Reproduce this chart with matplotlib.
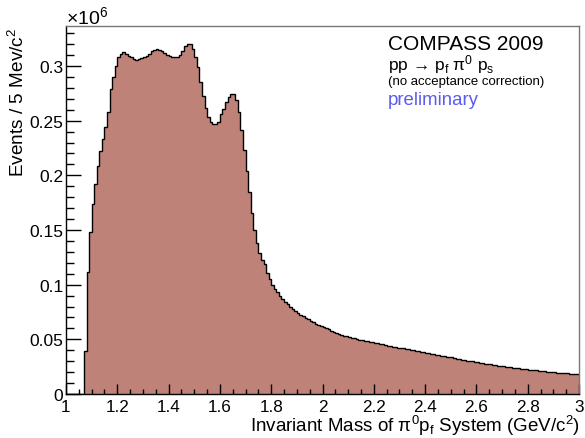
import numpy as np
import matplotlib
matplotlib.use('Agg')
from matplotlib import pyplot as plt
from matplotlib.ticker import MultipleLocator, FuncFormatter

plt.rcParams['font.family'] = ['Liberation Sans', 'DejaVu Sans']
plt.rcParams['mathtext.fontset'] = 'custom'
plt.rcParams['mathtext.rm'] = 'Liberation Sans'
plt.rcParams['mathtext.it'] = 'Liberation Sans:italic'
plt.rcParams['mathtext.bf'] = 'Liberation Sans:bold'

# histogram, 10 MeV bins from 1.0 to 3.0 GeV, counts in units of 10^6
mass_lo = 1.0
mass_hi = 3.0
n_bins = 200

counts_low = [0, 0, 0, 0, 0, 0, 0,
              0.039, 0.112, 0.148,
              0.174, 0.192, 0.209, 0.222, 0.233, 0.244, 0.258, 0.279, 0.290, 0.300,
              0.308, 0.311, 0.313, 0.311, 0.3096, 0.308, 0.3065, 0.3056, 0.3065, 0.307,
              0.308, 0.3096, 0.311, 0.3136, 0.315, 0.3155, 0.315, 0.3136, 0.3115, 0.310,
              0.3096, 0.3086, 0.308, 0.308, 0.310, 0.314, 0.318, 0.320, 0.320, 0.316]

counts_mid = [0.308, 0.299, 0.285, 0.273, 0.262, 0.253, 0.2486, 0.247, 0.247, 0.249,
              0.256, 0.261, 0.267, 0.2715, 0.2745, 0.274, 0.269, 0.258, 0.2416, 0.223,
              0.204, 0.1845, 0.166, 0.150, 0.138, 0.129, 0.123, 0.119, 0.111, 0.105,
              0.0997, 0.096, 0.093, 0.090, 0.087, 0.0845, 0.0824, 0.080, 0.0778, 0.0757,
              0.0741, 0.0723, 0.0711, 0.0698, 0.0686, 0.0671, 0.0656, 0.0643, 0.0634, 0.0622]

counts_high = [0.0610, 0.0601, 0.0592, 0.0579, 0.0570, 0.0561, 0.0552, 0.0543, 0.0533, 0.0528,
               0.0519, 0.0514, 0.0508, 0.0502, 0.0498, 0.0492, 0.0488, 0.0482, 0.0478, 0.0472,
               0.0468, 0.0462, 0.0458, 0.0453, 0.0448, 0.0443, 0.0439, 0.0433, 0.0430, 0.0425,
               0.0421, 0.0417, 0.0412, 0.0408, 0.0404, 0.0399, 0.0395, 0.0390, 0.0386, 0.0381,
               0.0377, 0.0372, 0.0368, 0.0364, 0.0360, 0.0356, 0.0351, 0.0347, 0.0343, 0.0340,
               0.0334, 0.0329, 0.0324, 0.0319, 0.0315, 0.0311, 0.0306, 0.0302, 0.0298, 0.0294,
               0.0290, 0.0286, 0.0282, 0.0278, 0.0275, 0.0271, 0.0267, 0.0264, 0.0260, 0.0257,
               0.0254, 0.0250, 0.0247, 0.0244, 0.0241, 0.0237, 0.0234, 0.0231, 0.0228, 0.0225,
               0.0223, 0.0220, 0.0217, 0.0215, 0.0212, 0.0210, 0.0207, 0.0205, 0.0202, 0.0200,
               0.0198, 0.0196, 0.0194, 0.0192, 0.0190, 0.0188, 0.0186, 0.0184, 0.0182, 0.0180]

counts = np.array(counts_low + counts_mid + counts_high)
edges = np.linspace(mass_lo, mass_hi, n_bins + 1)

W, H = 585, 439
fig = plt.figure(figsize=(W / 100, H / 100), dpi=100)
ax = fig.add_axes([66 / W, 44 / H, 513 / W, 368 / H])

fill_col = '#bf8278'
ax.stairs(counts, edges, fill=True, color=fill_col, lw=0)
ax.stairs(counts, edges, color='black', lw=1.0, baseline=None)

ax.set_xlim(mass_lo, mass_hi)
ax.set_ylim(0, 0.3366)

ax.xaxis.set_major_locator(MultipleLocator(0.2))
ax.xaxis.set_minor_locator(MultipleLocator(0.05))
ax.yaxis.set_major_locator(MultipleLocator(0.05))
ax.yaxis.set_minor_locator(MultipleLocator(0.01))
fmt = FuncFormatter(lambda v, p: '%g' % round(v, 3))
ax.xaxis.set_major_formatter(fmt)
ax.yaxis.set_major_formatter(fmt)

ax.tick_params(axis='x', which='major', direction='in', length=7.2, width=1, labelsize=12.3, pad=3.5)
ax.tick_params(axis='x', which='minor', direction='in', length=3.6, width=1)
ax.tick_params(axis='y', which='major', direction='in', length=10.8, width=1, labelsize=12.5, pad=2)
ax.tick_params(axis='y', which='minor', direction='in', length=5.6, width=1)

for s in ['left', 'bottom']:
    ax.spines[s].set_color('black')
    ax.spines[s].set_linewidth(1)
for s in ['top', 'right']:
    ax.spines[s].set_color('#777777')
    ax.spines[s].set_linewidth(1)

fig.text(580 / W, 1 - 432 / H, r'Invariant Mass of $\mathrm{\pi}^{0}$p$_{\mathrm{f}}$ System (GeV/c$^{2}$)',
         ha='right', va='baseline', fontsize=13.5)
fig.text(18 / W, 1 - 28 / H, r'Events / 5 Mev/c$^{2}$', rotation=90,
         ha='center', va='top', fontsize=13.7)
fig.text(66 / W, 1 - 24 / H, r'$\times$10$^{6}$', ha='left', va='baseline', fontsize=14)

fig.text(388 / W, 1 - 50 / H, 'COMPASS 2009', ha='left', va='baseline', fontsize=15)
fig.text(388 / W, 1 - 70 / H, r'pp → p$_{\mathrm{f}}$ π$^{0}$ p$_{\mathrm{s}}$',
         ha='left', va='baseline', fontsize=12.5)
fig.text(388 / W, 1 - 85 / H, '(no acceptance correction)', ha='left', va='baseline', fontsize=9.5)
fig.text(388 / W, 1 - 105 / H, 'preliminary', ha='left', va='baseline', fontsize=13.4,
         color='#5b5bef')

fig.savefig('out.png', dpi=100)
